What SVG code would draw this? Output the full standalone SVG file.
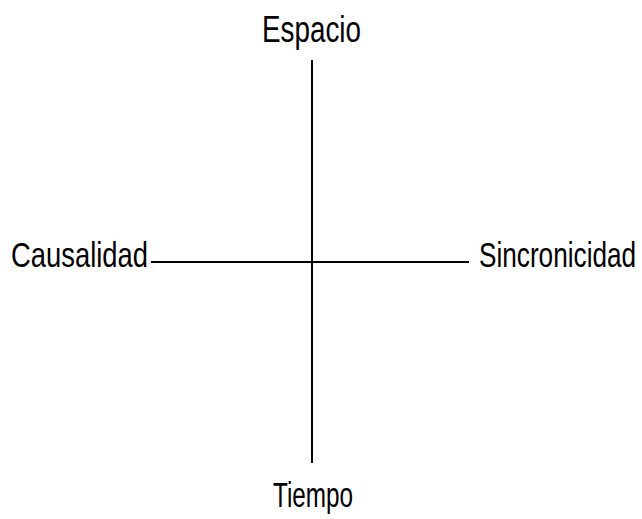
<svg xmlns="http://www.w3.org/2000/svg" width="642" height="519" viewBox="0 0 642 519">
<style>
.lbl{font-family:"Liberation Sans",Arial,sans-serif;font-size:36px;fill:#000}
.ax{stroke:#000;stroke-width:2;fill:none}
</style>
<rect width="642" height="519" fill="#fff"/>
<g id="connectors">
<line class="ax" x1="312" y1="60" x2="312" y2="463"/>
<line class="ax" x1="151" y1="262" x2="469" y2="262"/>
</g>
<g id="espacio"><text class="lbl" transform="translate(262,42) scale(0.773,1)">Espacio</text></g>
<g id="causalidad"><text class="lbl" transform="translate(11,267) scale(0.761,1)">Causalidad</text></g>
<g id="sincronicidad"><text class="lbl" transform="translate(479,267) scale(0.727,1)">Sincronicidad</text></g>
<g id="tiempo"><text class="lbl" transform="translate(273,507) scale(0.675,1)">Tiempo</text></g>
</svg>
